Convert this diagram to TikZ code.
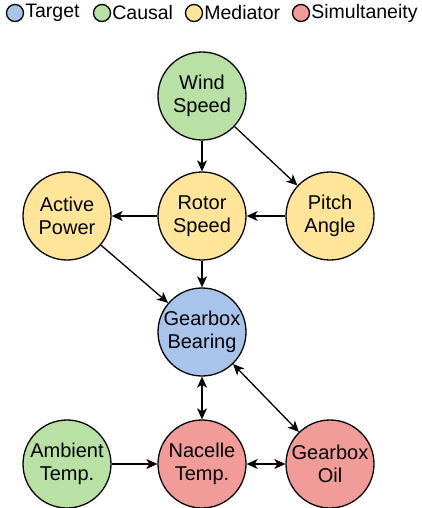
\documentclass[tikz,border=0pt]{standalone}
\usepackage{fontspec}
\setmainfont{Liberation Sans}
\usepackage{tikz}
\usetikzlibrary{arrows.meta}

\definecolor{target}{HTML}{A9C4EB}
\definecolor{causal}{HTML}{B9E0A5}
\definecolor{mediator}{HTML}{FFE599}
\definecolor{simul}{HTML}{F19C99}

\begin{document}
\begin{tikzpicture}[x=1pt,y=-1pt,
    var/.style={draw,circle,line width=1.3pt,minimum size=88pt,inner sep=0pt,
      align=center,font=\fontsize{20}{23}\selectfont},
    key/.style={draw,circle,line width=1.3pt,minimum size=17pt,inner sep=0pt},
    keytext/.style={anchor=west,inner sep=1pt,font=\fontsize{19.5}{23}\selectfont},
    edge/.style={line width=1.3pt,-{Stealth[length=11pt,width=10pt,inset=3pt]}},
    both/.style={line width=1.3pt,{Stealth[length=11pt,width=10pt,inset=3pt]}-{Stealth[length=11pt,width=10pt,inset=3pt]}}]
  \useasboundingbox (0,0) rectangle (422,508);
  % legend
  \node[key,fill=target]   (kt) at (15,13)  {};
  \node[keytext] (lt) at (kt.east) {Target};
  \node[key,fill=causal]   (kc) at (102,13) {};
  \node[keytext] (lc) at (kc.east) {Causal};
  \node[key,fill=mediator] (km) at (194,13) {};
  \node[keytext] (lm) at (km.east) {Mediator};
  \node[key,fill=simul]    (ks) at (301,13) {};
  \node[keytext] (ls) at (ks.east) {Simultaneity};
  % variables
  \node[var,fill=causal]   (wind)   at (202,96)  {Wind\\Speed};
  \node[var,fill=mediator] (rotor)  at (202,216) {Rotor\\Speed};
  \node[var,fill=mediator] (power)  at (67,216)  {Active\\Power};
  \node[var,fill=mediator] (pitch)  at (330,216) {Pitch\\Angle};
  \node[var,fill=target]   (gbear)  at (202,332) {Gearbox\\Bearing};
  \node[var,fill=causal]   (amb)    at (67,464)  {Ambient\\Temp.};
  \node[var,fill=simul]    (nac)    at (202,464) {Nacelle\\Temp.};
  \node[var,fill=simul]    (oil)    at (330,464) {Gearbox\\Oil};
  % links
  \draw[edge] (wind) -- (rotor);
  \draw[edge] (wind) -- (pitch);
  \draw[edge] (pitch) -- (rotor);
  \draw[edge] (rotor) -- (power);
  \draw[edge] (power) -- (gbear);
  \draw[edge] (rotor) -- (gbear);
  \draw[edge] (amb) -- (nac);
  \draw[both] (gbear) -- (nac);
  \draw[both] (gbear) -- (oil);
  \draw[both] (nac) -- (oil);
\end{tikzpicture}
\end{document}
